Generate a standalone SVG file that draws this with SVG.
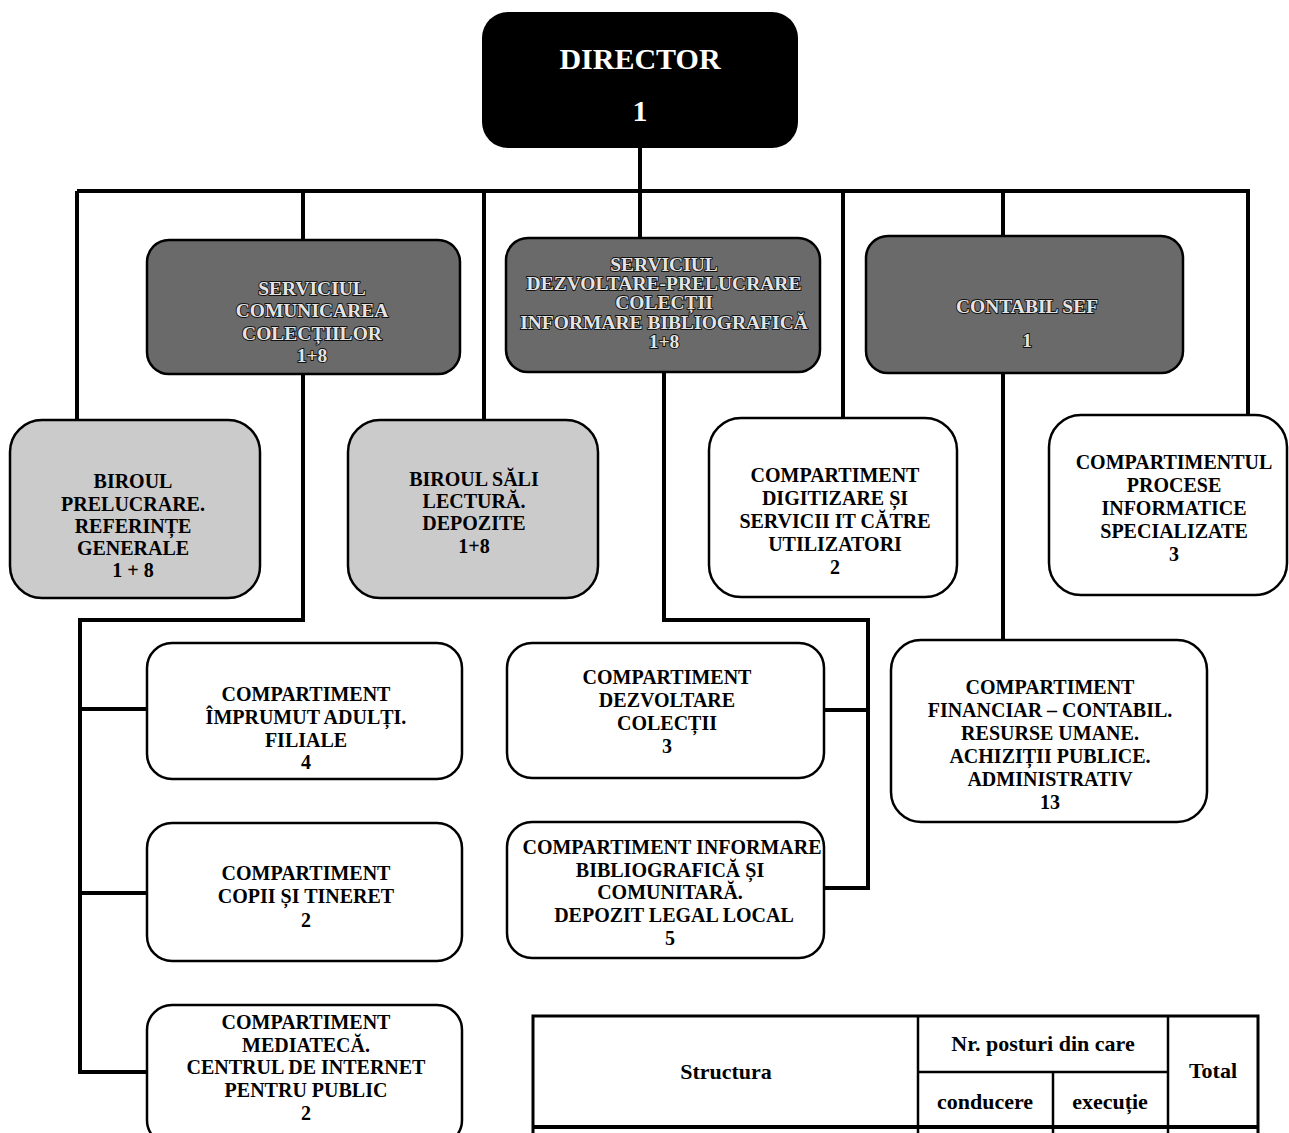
<svg xmlns="http://www.w3.org/2000/svg" width="1289" height="1133" viewBox="0 0 1289 1133">
<style>
text{font-family:"Liberation Serif","Times New Roman",serif;font-weight:bold;text-anchor:middle;fill:#000;font-size:20px}
.dir text{fill:#fff;font-size:30px}
.dark rect{fill:#6a6a6a;stroke:#000;stroke-width:2.5}
.dark text{fill:#e4e4e4;stroke:#111;stroke-width:1.8;paint-order:stroke;font-size:19.5px}
.light rect{fill:#cbcbcb;stroke:#000;stroke-width:2.5}
.white rect{fill:#fff;stroke:#000;stroke-width:2.5}
.conn path{fill:none;stroke:#000;stroke-width:4;stroke-linejoin:miter}
.tbl line,.tbl rect{stroke:#000;fill:none}
.tbl text{font-size:22px}
</style>
<rect width="1289" height="1133" fill="#fff"/>
<g class="conn" id="connectors">
<path d="M640 148V191"/>
<path d="M77 191H1250"/>
<path d="M77 191V420M303 191V240M484 191V420M640 191V238M843 191V418M1003 191V236M1248 191V415"/>
<path d="M303 374V620H80V1072H147M80 709H147M80 893H147"/>
<path d="M664 372V620H868V888H824M824 710H868"/>
<path d="M1003 373V640"/>
</g>
<g id="director" class="dir">
<rect x="482" y="12" width="316" height="136" rx="26" fill="#000"/>
<text x="640" y="69">DIRECTOR</text>
<text x="640" y="121">1</text>
</g>
<g id="serviciul-comunicarea" class="dark">
<rect x="147" y="240" width="313" height="134" rx="22"/>
<text x="312" y="295">SERVICIUL</text>
<text x="312" y="317">COMUNICAREA</text>
<text x="312" y="340">COLECȚIILOR</text>
<text x="312" y="362">1+8</text>
</g>
<g id="serviciul-dezvoltare" class="dark">
<rect x="506" y="238" width="314" height="134" rx="22"/>
<text x="664" y="271">SERVICIUL</text>
<text x="664" y="290">DEZVOLTARE-PRELUCRARE</text>
<text x="664" y="309">COLECȚII</text>
<text x="664" y="329">INFORMARE  BIBLIOGRAFICĂ</text>
<text x="664" y="348">1+8</text>
</g>
<g id="contabil-sef" class="dark">
<rect x="866" y="236" width="317" height="137" rx="22"/>
<text x="1027" y="313">CONTABIL SEF</text>
<text x="1027" y="347">1</text>
</g>
<g id="biroul-prelucrare" class="light">
<rect x="10" y="420" width="250" height="178" rx="32"/>
<text x="133" y="488">BIROUL</text>
<text x="133" y="511">PRELUCRARE.</text>
<text x="133" y="533">REFERINȚE</text>
<text x="133" y="555">GENERALE</text>
<text x="133" y="577">1 + 8</text>
</g>
<g id="biroul-sali" class="light">
<rect x="348" y="420" width="250" height="178" rx="32"/>
<text x="474" y="486">BIROUL SĂLI</text>
<text x="474" y="508">LECTURĂ.</text>
<text x="474" y="530">DEPOZITE</text>
<text x="474" y="553">1+8</text>
</g>
<g id="compartiment-digitizare" class="white">
<rect x="709" y="418" width="248" height="179" rx="32"/>
<text x="835" y="482">COMPARTIMENT</text>
<text x="835" y="505">DIGITIZARE ȘI</text>
<text x="835" y="528">SERVICII IT CĂTRE</text>
<text x="835" y="551">UTILIZATORI</text>
<text x="835" y="574">2</text>
</g>
<g id="compartimentul-procese" class="white">
<rect x="1049" y="415" width="238" height="180" rx="32"/>
<text x="1174" y="469">COMPARTIMENTUL</text>
<text x="1174" y="492">PROCESE</text>
<text x="1174" y="515">INFORMATICE</text>
<text x="1174" y="538">SPECIALIZATE</text>
<text x="1174" y="561">3</text>
</g>
<g id="compartiment-imprumut" class="white">
<rect x="147" y="643" width="315" height="136" rx="25"/>
<text x="306" y="701">COMPARTIMENT</text>
<text x="306" y="724">ÎMPRUMUT ADULȚI.</text>
<text x="306" y="747">FILIALE</text>
<text x="306" y="769">4</text>
</g>
<g id="compartiment-dezvoltare" class="white">
<rect x="507" y="643" width="317" height="135" rx="25"/>
<text x="667" y="684">COMPARTIMENT</text>
<text x="667" y="707">DEZVOLTARE</text>
<text x="667" y="730">COLECȚII</text>
<text x="667" y="753">3</text>
</g>
<g id="compartiment-financiar" class="white">
<rect x="891" y="640" width="316" height="182" rx="30"/>
<text x="1050" y="694">COMPARTIMENT</text>
<text x="1050" y="717">FINANCIAR – CONTABIL.</text>
<text x="1050" y="740">RESURSE UMANE.</text>
<text x="1050" y="763">ACHIZIȚII PUBLICE.</text>
<text x="1050" y="786">ADMINISTRATIV</text>
<text x="1050" y="809">13</text>
</g>
<g id="compartiment-copii" class="white">
<rect x="147" y="823" width="315" height="138" rx="25"/>
<text x="306" y="880">COMPARTIMENT</text>
<text x="306" y="903">COPII ȘI TINERET</text>
<text x="306" y="927">2</text>
</g>
<g id="compartiment-informare" class="white">
<rect x="507" y="822" width="317" height="136" rx="25"/>
<text x="672" y="854">COMPARTIMENT  INFORMARE</text>
<text x="670" y="877">BIBLIOGRAFICĂ ȘI</text>
<text x="670" y="899">COMUNITARĂ.</text>
<text x="674" y="922"> DEPOZIT LEGAL LOCAL</text>
<text x="670" y="945">5</text>
</g>
<g id="compartiment-mediateca" class="white">
<rect x="147" y="1005" width="315" height="140" rx="25"/>
<text x="306" y="1029">COMPARTIMENT</text>
<text x="306" y="1052">MEDIATECĂ.</text>
<text x="306" y="1074">CENTRUL DE INTERNET</text>
<text x="306" y="1097">PENTRU PUBLIC</text>
<text x="306" y="1120">2</text>
</g>
<g id="table" class="tbl">
<rect x="533" y="1016" width="725" height="130" stroke-width="3"/>
<line x1="918" y1="1016" x2="918" y2="1133" stroke-width="2.5"/>
<line x1="1168" y1="1016" x2="1168" y2="1133" stroke-width="2.5"/>
<line x1="1053" y1="1072" x2="1053" y2="1133" stroke-width="2.5"/>
<line x1="918" y1="1072" x2="1168" y2="1072" stroke-width="2.5"/>
<line x1="533" y1="1127" x2="1258" y2="1127" stroke-width="4"/>
<text x="726" y="1079">Structura</text>
<text x="1043" y="1051">Nr. posturi  din care</text>
<text x="1213" y="1078">Total</text>
<text x="985" y="1109">conducere</text>
<text x="1110" y="1109">execuție</text>
</g>
</svg>
